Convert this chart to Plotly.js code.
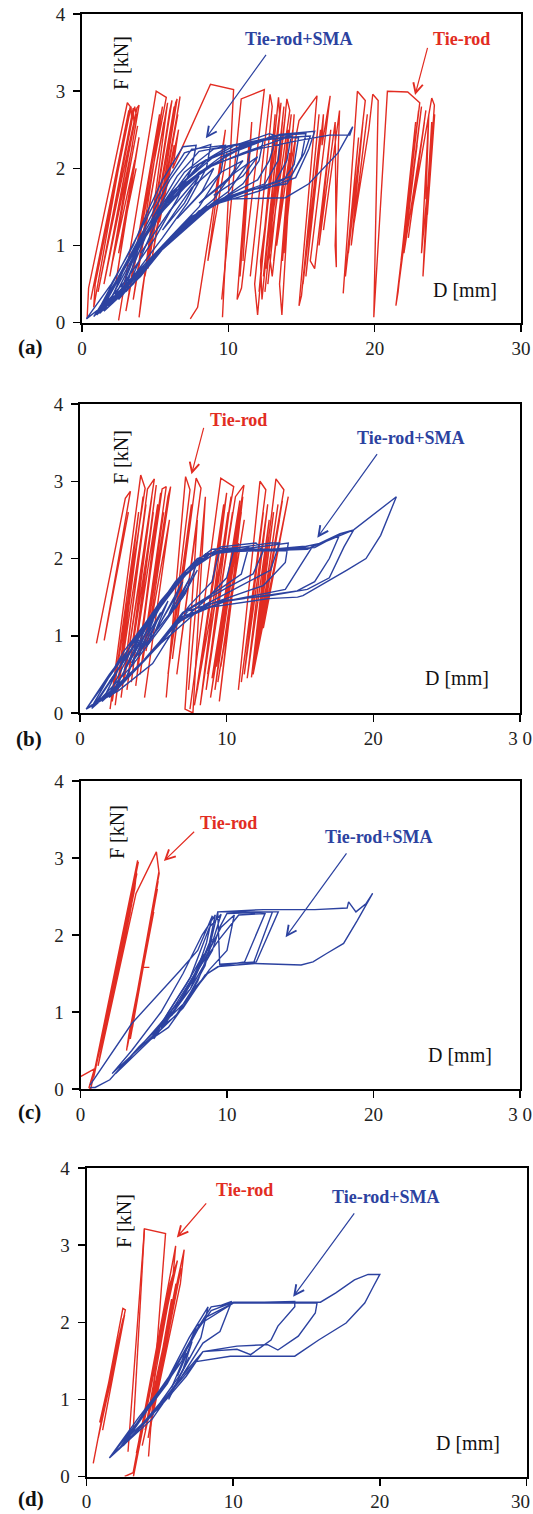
<!DOCTYPE html>
<html>
<head>
<meta charset="utf-8">
<script src="https://cdn.plot.ly/plotly-3.0.1.min.js"></script>
<style>html,body{margin:0;padding:0;background:#fff}#chart{width:533px;height:1514px}</style>
</head>
<body>
<div id="chart"></div>
<script>
// ---- data (D [mm], F [kN]); null = pen lifted ----
const panelLetters = ['(a)','(b)','(c)','(d)'];
const xTickVals = [0,10,20,30];
const xTickTextA = ['0','10','20','30'];
const xTickTextB = ['0','10','20','3 0'];
const xTickTextD = ['0','10','20',''];   // last label of (d) placed as annotation so it stays inside the page
const yTickVals = [0,1,2,3,4];

const aRod = [
 [0.35,0.05],[0.45,0.45],[3.1,2.85],[3.3,2.8],[0.6,0.3],[3.0,2.6],[3.2,2.75],[0.8,0.2],[0.9,0.5],[3.35,2.8],[3.4,2.6],[1.1,0.4],[3.5,2.78],[3.55,2.6],[1.3,0.6],[3.6,2.8],[3.7,2.7],[1.5,0.5],[3.45,2.3],[1.7,0.7],[3.75,2.78],[3.9,2.82],[1.9,0.6],[3.8,2.55],[2.1,0.8],[3.6,2.1],[2.3,0.5],[3.9,2.4],[2.5,0.9],[3.7,2.0],null,
 [2.5,0.03],[5.07,3.0],[5.76,2.92],[3.0,0.15],[5.3,2.7],[3.2,0.4],[5.5,2.8],[3.5,0.3],[5.6,2.6],[3.7,0.55],[5.85,2.85],[3.9,0.07],[4.1,0.4],[6.0,2.75],[6.15,2.88],[4.3,0.6],[6.0,2.4],[4.5,0.7],[6.3,2.8],[4.6,0.9],[6.4,2.85],[6.5,2.9],[4.8,0.85],[6.55,2.7],[5.0,1.1],[6.6,2.8],[6.7,2.93],[5.3,1.3],[6.3,2.3],[5.5,1.5],[6.6,2.5],[6.2,2.0],[8.78,3.09],[10.36,3.02],[9.6,0.07],null,
 [7.4,0.05],[7.9,0.2],[9.3,1.9],[9.8,2.5],[8.6,0.8],[9.9,2.2],null,
 [9.55,0.3],[10.88,2.9],[12.46,3.02],[10.9,0.45],[10.6,0.3],[11.4,2.3],[10.8,0.6],[11.6,2.6],[11.0,0.8],null,
 [11.5,0.6],[12.85,2.96],[13.0,2.8],[11.8,0.5],[12.0,0.1],[13.2,2.7],[12.1,0.4],[13.43,2.92],[13.5,2.7],[12.2,0.8],[12.3,0.3],[13.6,2.85],[12.4,0.6],[13.7,2.6],[12.5,0.4],[13.8,2.8],[12.6,0.7],[13.9,2.7],[12.7,0.5],[14.0,2.9],[14.2,2.75],[12.8,0.9],[13.0,0.6],[14.1,2.5],[13.1,0.8],[14.3,2.7],[13.3,1.0],[14.2,2.2],[13.5,0.5],[13.66,0.1],[14.4,2.5],[13.7,0.8],[14.5,2.7],[13.9,1.2],[14.6,2.4],[13.8,0.9],null,
 [14.2,2.0],[14.83,2.62],[16.06,2.94],[14.83,0.22],[15.0,0.35],[16.2,2.7],[15.1,0.5],[16.3,2.5],[15.3,0.6],[16.5,2.7],[16.4,2.3],[16.96,2.94],[15.6,0.8],[15.9,0.7],[17.0,2.5],[16.2,1.0],[17.3,2.6],[17.38,0.72],[17.3,1.0],[17.6,2.75],[16.5,1.2],null,
 [17.85,0.38],[18.82,3.0],[19.36,2.88],[18.0,0.6],[18.9,2.4],[18.2,0.9],[19.2,2.6],[18.4,1.0],[19.5,2.7],[18.6,1.3],[19.6,2.5],[19.87,2.96],[20.24,2.88],[19.94,0.07],
 [20.87,3.0],[22.26,2.99],[23.08,2.85],[21.45,0.22],[21.6,0.4],[22.8,2.6],[21.7,0.6],[23.0,2.75],[21.8,0.8],[22.9,2.3],[21.57,0.38],[22.2,1.3],[23.2,2.8],[22.0,0.9],[23.4,2.6],[22.3,1.1],[23.5,2.75],[22.5,1.4],[23.9,2.91],[24.08,2.82],[23.3,0.6],[23.4,1.0],[23.9,2.6],[23.6,1.4],[24.1,2.7],[23.2,0.9],[23.7,2.7],[23.5,1.6]
];
const aSMA = [
 [0.3,0.05],[2.0,0.5],[3.5,1.0],[4.5,1.45],[5.5,1.85],[6.9,2.28],[7.8,2.3],[7.5,2.0],[6.5,1.6],[5.0,1.1],[3.0,0.55],[1.0,0.12],
 [2.2,0.55],[4.0,1.2],[5.5,1.75],[7.0,2.2],[8.8,2.31],[8.5,2.0],[7.2,1.55],[5.5,1.1],[3.5,0.6],[1.5,0.2],
 [2.5,0.6],[4.5,1.3],[6.0,1.85],[7.5,2.25],[9.8,2.3],[9.5,1.95],[8.0,1.5],[6.0,1.1],[4.0,0.65],[1.8,0.22],
 [3.0,0.75],[4.8,1.35],[6.5,1.9],[8.0,2.22],[10.8,2.32],[10.5,2.0],[9.0,1.6],[6.5,1.2],[4.5,0.8],[2.0,0.3],
 [3.2,0.85],[5.0,1.4],[7.0,1.95],[9.0,2.25],[11.6,2.33],[11.3,2.05],[10.0,1.7],[7.5,1.35],[5.0,0.85],[1.2,0.12],
 [3.5,0.9],[5.5,1.5],[7.5,2.0],[10.0,2.28],[12.4,2.38],[12.1,2.1],[11.0,1.8],[8.5,1.45],[5.5,0.95],[2.5,0.35],
 [3.8,0.95],[6.0,1.6],[8.0,2.05],[10.5,2.3],[12.8,2.45],[13.3,2.42],[12.8,2.1],[12.0,1.85],[9.0,1.55],[6.0,1.1],[3.0,0.45],
 [4.0,1.05],[6.2,1.7],[8.5,2.1],[11.0,2.3],[13.6,2.43],[13.4,2.1],[12.5,1.8],[9.5,1.6],[6.5,1.2],[3.5,0.5],[1.5,0.15],
 [4.2,1.1],[6.5,1.75],[9.0,2.15],[12.0,2.35],[14.3,2.42],[14.0,2.1],[13.2,1.82],[10.0,1.62],[7.0,1.3],[4.0,0.6],[2.0,0.25],
 [4.5,1.2],[7.0,1.8],[9.5,2.15],[12.5,2.38],[14.8,2.4],[14.5,2.05],[13.8,1.85],[10.5,1.65],[7.5,1.38],[4.5,0.75],[1.0,0.1],
 [4.8,1.3],[7.5,1.85],[10.0,2.18],[13.0,2.42],[15.3,2.45],[15.0,2.15],[14.3,1.9],[11.0,1.68],[8.0,1.45],[5.0,0.85],[2.5,0.3],
 [5.0,1.4],[8.0,1.95],[10.5,2.22],[13.5,2.44],[15.9,2.48],[15.5,2.25],[14.6,1.88],[12.0,1.7],[8.5,1.5],[5.5,0.95],[3.0,0.4],
 [5.5,1.5],[8.5,2.0],[11.0,2.2],[14.0,2.4],[15.6,2.42],[15.2,2.2],[14.0,1.8],[11.5,1.72],[9.0,1.55],[6.0,1.05],[0.8,0.08],
 [6.0,1.65],[9.0,2.05],[12.0,2.25],[14.5,2.35],[16.9,2.43],[18.3,2.43],[18.5,2.54],[17.5,2.2],[15.5,1.8],[13.9,1.62],[9.5,1.6],[8.0,1.4],[6.0,1.05],[4.0,0.65],[2.0,0.3],[0.3,0.05],null,
 [4.0,0.9],[6.0,1.45],[8.0,1.9],[7.0,1.55],[5.5,1.2],[7.5,1.75],[9.0,2.0],[8.2,1.7],[6.5,1.35],[9.5,1.95],[11.0,2.1],[10.0,1.85],[8.0,1.55],[10.5,1.95],[12.0,2.15],[11.0,1.9],[9.0,1.65]
];

const bRod = [
 [1.12,0.9],[3.09,2.78],[3.44,2.87],[1.65,0.94],[3.3,2.6],null,
 [2.05,0.05],[4.14,3.08],[4.44,2.91],[2.2,0.15],[4.0,2.6],[2.4,0.1],[4.3,2.8],[2.6,0.3],[4.5,2.7],[2.8,0.2],[4.6,2.9],[5.07,3.03],[3.0,0.4],[4.7,2.5],[3.2,0.3],[4.9,2.8],[3.3,0.5],[5.0,2.6],[3.5,0.4],[5.2,2.95],[3.6,0.6],[5.3,2.7],[3.8,0.35],[5.5,2.85],[3.9,0.6],[5.6,2.9],[5.88,2.93],[4.1,0.5],[5.7,2.6],[4.3,0.7],[6.0,2.8],[6.18,2.93],[4.5,0.8],[5.9,2.3],[4.7,1.0],[6.1,2.5],[4.4,0.2],null,
 [5.88,0.2],[7.2,3.06],[7.5,2.89],[6.0,0.5],[7.6,2.7],[6.3,0.7],[7.92,3.04],[8.25,2.91],[6.6,0.5],[8.0,2.5],[7.16,0.05],[7.7,0.0],[8.55,2.8],[7.4,0.3],null,
 [7.5,0.05],[9.6,3.04],[10.48,2.93],[7.8,0.1],[9.8,2.7],[8.0,0.3],[10.0,2.85],[8.2,0.1],[10.1,2.6],[8.4,0.4],[10.3,2.8],[8.6,0.3],[10.4,2.6],[8.7,0.5],[10.6,2.8],[11.18,2.95],[8.9,0.2],[10.7,2.5],[9.0,0.45],[10.9,2.75],[9.2,0.3],[11.0,2.6],[9.3,0.6],[11.1,2.8],[9.5,0.15],[10.8,2.2],[9.6,0.6],[11.2,2.5],[9.4,0.4],null,
 [10.8,0.3],[12.27,3.0],[12.67,2.89],[11.0,0.4],[12.5,2.6],[11.2,0.5],[12.8,2.7],[11.4,0.45],[12.9,2.5],[11.69,0.46],[13.36,3.03],[13.9,2.89],[11.8,0.55],[13.2,2.6],[11.9,0.6],[13.5,2.7],[12.0,0.7],[13.6,2.5],[12.2,0.9],[13.8,2.75],[12.3,1.0],[14.2,2.8],[12.5,1.1],[13.8,2.4],[12.6,1.3],[14.0,2.6],[11.8,0.5]
];
const bSMA = [
 [0.42,0.05],[2.0,0.5],[4.0,1.0],[6.0,1.55],[7.5,1.9],[8.0,1.95],[7.2,1.55],[5.5,1.1],[3.5,0.6],[1.5,0.2],[0.42,0.05],
 [2.5,0.6],[4.5,1.15],[6.5,1.7],[8.0,2.0],[9.5,2.1],[9.0,1.7],[7.5,1.4],[5.0,0.8],[2.5,0.3],[0.8,0.08],
 [3.0,0.8],[5.0,1.3],[7.0,1.8],[8.5,2.05],[10.5,2.12],[10.0,1.75],[8.5,1.45],[6.0,1.05],[3.5,0.5],[1.5,0.15],
 [3.5,0.9],[5.5,1.45],[7.5,1.9],[9.0,2.12],[11.5,2.15],[11.0,1.8],[9.5,1.6],[7.0,1.3],[4.5,0.7],[2.0,0.25],
 [4.0,1.0],[6.0,1.55],[8.0,1.95],[9.6,2.15],[12.0,2.2],[12.5,2.1],[11.8,1.8],[10.0,1.62],[7.5,1.35],[5.0,0.8],[2.5,0.35],
 [4.5,1.1],[6.5,1.65],[8.5,2.05],[10.0,2.12],[13.0,2.2],[13.6,2.2],[13.0,1.85],[11.0,1.65],[8.5,1.4],[5.5,0.9],[3.0,0.4],
 [5.0,1.25],[7.0,1.75],[9.0,2.08],[11.0,2.12],[14.2,2.2],[14.0,1.95],[12.5,1.65],[9.0,1.42],[6.5,1.15],[4.0,0.6],[1.0,0.1],
 [5.5,1.4],[7.5,1.85],[9.5,2.1],[12.0,2.1],[15.9,2.17],[15.0,1.9],[14.0,1.6],[10.0,1.45],[7.0,1.25],[4.5,0.7],[2.0,0.2],
 [6.0,1.55],[8.0,1.95],[10.0,2.12],[13.0,2.12],[16.0,2.14],[17.73,2.32],[17.0,2.0],[16.0,1.7],[14.8,1.58],[12.0,1.5],[9.0,1.42],[6.8,1.2],[4.0,0.6],[0.8,0.06],
 [6.2,1.6],[8.5,2.05],[11.0,2.1],[14.0,2.1],[16.5,2.2],[18.66,2.37],[18.0,2.15],[17.0,1.75],[15.5,1.6],[13.0,1.52],[9.5,1.45],[7.0,1.3],[4.5,0.7],[1.0,0.1],
 [6.5,1.7],[9.0,2.08],[12.0,2.1],[15.5,2.12],[17.73,2.32],[18.66,2.37],[21.57,2.8],[20.5,2.3],[19.5,2.0],[18.2,1.85],[15.2,1.52],[14.83,1.5],[12.85,1.48],[8.9,1.37],[6.8,1.2],[4.95,0.64],[2.63,0.29],[0.42,0.05],null,
 [2.0,0.4],[4.0,0.95],[3.0,0.55],[5.0,1.2],[4.0,0.75],[6.0,1.45],[5.0,1.0],[7.0,1.7],[6.0,1.25],[7.5,1.75],[6.5,1.35],[8.0,1.85],[7.0,1.5],[3.5,0.65],[5.5,1.3],[4.5,0.85],[6.5,1.5]
];

const cRod = [
 [0,0.16],[0.95,0.26],[0.58,0.02],[0.7,0.0],[3.9,2.97],[3.7,2.6],[0.9,0.15],[3.8,2.85],[1.1,0.35],[3.65,2.55],[1.2,0.3],[3.95,2.95],[1.35,0.5],[3.75,2.7],[1.5,0.6],[3.85,2.8],[1.6,0.7],[3.5,2.4],[1.3,0.4],[3.6,2.6],[1.45,0.55],[3.4,2.3],[1.2,0.3],[3.79,2.54],[5.18,3.08],[5.37,2.8],[3.14,0.5],[5.3,2.75],[3.3,0.7],[5.2,2.55],[3.4,0.65],[5.35,2.82],[3.5,0.85],[5.25,2.6],[3.6,0.9],[5.1,2.4],[3.45,0.75],[5.3,2.7],[3.7,1.0],[5.0,2.3],[3.2,0.55],[5.15,2.6],[3.55,0.8],[5.05,2.45],null,
 [4.2,1.58],[4.7,1.58]
];
const cSMA = [
 [0.65,0.05],[3.5,0.85],[6.8,1.54],[8.0,1.8],[9.0,2.25],[8.6,1.9],[7.8,1.45],[6.5,1.05],[5.0,0.7],[3.0,0.35],[2.16,0.2],
 [3.5,0.5],[5.5,1.0],[7.0,1.5],[8.3,2.0],[9.2,2.26],[8.8,1.9],[7.5,1.3],[5.0,0.65],
 [6.0,1.0],[7.5,1.45],[8.8,2.1],[9.6,2.27],[9.0,1.9],[8.0,1.4],[6.5,0.95],[5.5,0.8],
 [7.0,1.25],[8.5,1.7],[9.6,2.1],[10.5,2.26],[10.0,1.8],[8.8,1.55],[7.5,1.2],[6.0,0.8],[4.7,0.63],
 [6.5,1.1],[8.0,1.55],[9.5,1.95],[10.8,2.26],[12.6,2.28],[11.2,1.65],[9.5,1.6],[8.5,1.48],[7.0,1.05],[2.4,0.2],
 [5.0,0.75],[7.5,1.3],[9.0,1.8],[9.5,2.1],[10.0,2.28],[13.1,2.3],[11.8,1.63],[9.4,1.59],[8.67,1.5],[7.5,1.25],
 [8.5,1.6],[9.37,2.3],[13.5,2.3],[12.0,1.65],[9.5,1.62],
 [9.37,2.3],[12.5,2.33],[16.0,2.33],[18.2,2.35],[18.3,2.43],[18.8,2.3],[19.5,2.41],[19.94,2.54],[18.9,2.19],[17.96,1.89],[16.8,1.76],[15.87,1.65],[15.06,1.61],[11.9,1.63],[9.37,1.59],[8.67,1.5],[7.0,1.1],[4.0,0.55],[2.0,0.12],[1.0,0.02],[0.65,0.02],null,
 [5.5,0.85],[7.2,1.35],[8.4,1.75],[7.8,1.5],[6.2,0.95],[8.0,1.55],[9.0,1.95],[8.2,1.6],[7.0,1.2],[8.8,1.85]
];

const dRod = [
 [0.46,0.17],[2.48,2.18],[2.65,2.16],[1.0,0.75],[2.4,1.95],[0.8,0.5],[2.3,1.8],[1.2,0.9],[2.6,2.1],[1.1,0.6],[2.2,1.7],[0.9,0.7],[2.5,2.05],[1.3,1.0],[2.1,1.6],null,
 [2.83,0.32],[3.95,3.21],[5.39,3.15],[4.23,0.26],null,
 [3.18,0.58],[3.95,3.21],null,
 [2.6,0.0],[3.18,0.05],[6.08,2.99],[5.9,2.6],[3.4,0.3],[5.7,2.5],[6.2,2.8],[3.6,0.5],[3.2,0.0],[6.0,2.7],[4.0,0.6],[6.66,2.94],[6.4,2.5],[4.2,0.5],[5.8,2.3],[4.5,0.9],[6.3,2.6],[4.4,0.7],[5.6,1.9],[4.6,1.0],[6.1,2.5],[4.8,1.2],[6.45,2.7],[4.3,0.6],[5.9,2.2],[3.8,0.4]
];
const dSMA = [
 [1.56,0.24],[3.5,0.75],[5.5,1.25],[7.0,1.8],[8.29,2.2],[7.8,1.8],[6.5,1.35],[5.0,0.95],[3.0,0.5],[2.2,0.35],
 [4.0,0.85],[6.0,1.4],[7.5,1.9],[8.5,2.2],[9.2,2.22],[9.9,2.27],[9.1,1.88],[7.94,1.73],[6.5,1.3],[4.5,0.8],[2.5,0.4],
 [5.0,1.1],[7.0,1.7],[8.0,2.05],[10.03,2.25],[14.2,2.27],[14.2,2.2],[13.05,1.95],[12.58,1.77],[11.19,1.58],[10.26,1.65],[7.94,1.62],[6.5,1.3],[4.5,0.75],[1.56,0.24],
 [4.5,0.95],[6.5,1.5],[7.5,1.95],[10.03,2.25],[15.72,2.25],[15.6,2.12],[14.44,1.82],[13.05,1.64],[12.35,1.71],[10.26,1.69],[7.94,1.62],[6.8,1.3],[5.0,0.9],[2.5,0.45],
 [5.5,1.2],[7.2,1.8],[8.5,2.15],[10.03,2.26],[15.95,2.26],[17.0,2.38],[18.27,2.55],[19.2,2.62],[20.0,2.62],[19.55,2.46],[18.97,2.25],[17.7,1.99],[15.83,1.77],[14.2,1.56],[9.8,1.56],[7.48,1.49],[6.08,1.17],[4.0,0.7],[1.56,0.24],null,
 [5.8,1.15],[6.8,1.6],[6.2,1.3],[7.2,1.75],[6.6,1.4],[5.6,1.0],[7.0,1.55]
];

// arrow heads/tails in data units [headX, headY, tailX, tailY]
const rodArrows = [[22.76,2.95,23.64,3.58],[7.6,3.09,8.46,3.71],[5.69,2.96,7.86,3.36],[6.16,3.1,8.25,3.56]];
const smaArrows = [[8.46,2.39,12.65,3.49],[16.18,2.27,20.33,3.37],[14.0,1.97,18.23,3.08],[14.09,2.33,18.33,3.43]];

// ---- layout in pixels ----
const W = 533, H = 1514;
const boxes = [ // left, right, top, bottom (px)
 [82,521,14,322.7],[80,520,404,713],[80.5,520,781,1089],[86.5,526.5,1168,1476.5]
];
const labelPos = [ // F label, D label, Tie-rod, Tie-rod+SMA, panel letter (px)
 {F:[121,63], D:[465,290], R:[461,39], S:[299,39], P:[30,347]},
 {F:[121,457], D:[457,678], R:[238,420], S:[411,438], P:[29,739]},
 {F:[117,832], D:[460,1055], R:[228,823], S:[379,837], P:[29,1112]},
 {F:[124,1221], D:[468,1443], R:[244,1190], S:[386,1197], P:[31,1499]}
];

const RED = 'rgb(226,44,34)', BLUE = 'rgb(44,66,160)';
const serif = 'Liberation Serif, Times New Roman, serif';
const px = (x) => x / W, py = (y) => 1 - y / H;

const sets = [[aRod,aSMA],[bRod,bSMA],[cRod,cSMA],[dRod,dSMA]];
const traces = [];
const layout = {
  width: W, height: H, margin: {l:0,r:0,t:0,b:0},
  paper_bgcolor: '#fff', plot_bgcolor: '#fff', showlegend: false,
  font: {family: serif, color: '#222'},
  annotations: []
};
sets.forEach((s, i) => {
  const n = i === 0 ? '' : String(i + 1);
  const xa = 'x' + n, ya = 'y' + n;
  const split = (arr) => ({x: arr.map(p => p ? p[0] : null), y: arr.map(p => p ? p[1] : null)});
  const r = split(s[0]), b = split(s[1]);
  traces.push({type:'scatter', mode:'lines', x:r.x, y:r.y, xaxis:xa, yaxis:ya, line:{color:RED, width:1.4}, connectgaps:false, hoverinfo:'skip'});
  traces.push({type:'scatter', mode:'lines', x:b.x, y:b.y, xaxis:xa, yaxis:ya, line:{color:BLUE, width:1.4}, connectgaps:false, hoverinfo:'skip'});
  const bx = boxes[i];
  const axCommon = {showgrid:false, zeroline:false, showline:true, linecolor:'#000', linewidth:2, mirror:true,
    ticks:'outside', ticklen:7, tickwidth:1.5, tickcolor:'#000', tickfont:{family:serif, size:19, color:'#222'},
    ticklabeloverflow:'allow', fixedrange:true};
  const tt = i === 3 ? xTickTextD : ((i === 1 || i === 2) ? xTickTextB : xTickTextA);
  layout['xaxis' + n] = Object.assign({}, axCommon, {domain:[px(bx[0]), px(bx[1])], range:[0,30], anchor:ya,
    tickvals:xTickVals, ticktext:tt, ticklabelstandoff:0});
  layout['yaxis' + n] = Object.assign({}, axCommon, {domain:[py(bx[3]), py(bx[2])], range:[0,4], anchor:xa,
    tickvals:yTickVals, ticklabelstandoff:4});
  const L = labelPos[i];
  const A = layout.annotations;
  A.push({xref:'paper', yref:'paper', x:px(L.F[0]), y:py(L.F[1]), text:'F [kN]', textangle:-90, showarrow:false, xanchor:'center', yanchor:'middle', font:{family:serif, size:20, color:'#111'}});
  A.push({xref:'paper', yref:'paper', x:px(L.D[0]), y:py(L.D[1]), text:'D [mm]', showarrow:false, xanchor:'center', yanchor:'middle', font:{family:serif, size:20, color:'#111'}});
  A.push({xref:'paper', yref:'paper', x:px(L.R[0]), y:py(L.R[1]), text:'<b>Tie-rod</b>', showarrow:false, xanchor:'center', yanchor:'middle', font:{family:serif, size:18, color:RED}});
  A.push({xref:'paper', yref:'paper', x:px(L.S[0]), y:py(L.S[1]), text:'<b>Tie-rod+SMA</b>', showarrow:false, xanchor:'center', yanchor:'middle', font:{family:serif, size:18, color:BLUE}});
  A.push({xref:'paper', yref:'paper', x:px(L.P[0]), y:py(L.P[1]), text:'<b>' + panelLetters[i] + '</b>', showarrow:false, xanchor:'center', yanchor:'middle', font:{family:serif, size:21, color:'#111'}});
  const ra = rodArrows[i], sa = smaArrows[i];
  A.push({xref:xa, yref:ya, axref:xa, ayref:ya, x:ra[0], y:ra[1], ax:ra[2], ay:ra[3], text:'', showarrow:true, arrowhead:5, arrowsize:1.6, arrowwidth:1.2, arrowcolor:RED, standoff:0, startstandoff:0});
  A.push({xref:xa, yref:ya, axref:xa, ayref:ya, x:sa[0], y:sa[1], ax:sa[2], ay:sa[3], text:'', showarrow:true, arrowhead:5, arrowsize:1.6, arrowwidth:1.2, arrowcolor:BLUE, standoff:0, startstandoff:0});
});
// last x tick label of panel (d), kept inside the page
layout.annotations.push({xref:'paper', yref:'paper', x:1, y:py(1501), text:xTickTextA[3], showarrow:false, xanchor:'right', yanchor:'middle', xshift:-1, font:{family:serif, size:19, color:'#222'}});
Plotly.newPlot('chart', traces, layout, {staticPlot:true, displayModeBar:false});
</script>
</body>
</html>
